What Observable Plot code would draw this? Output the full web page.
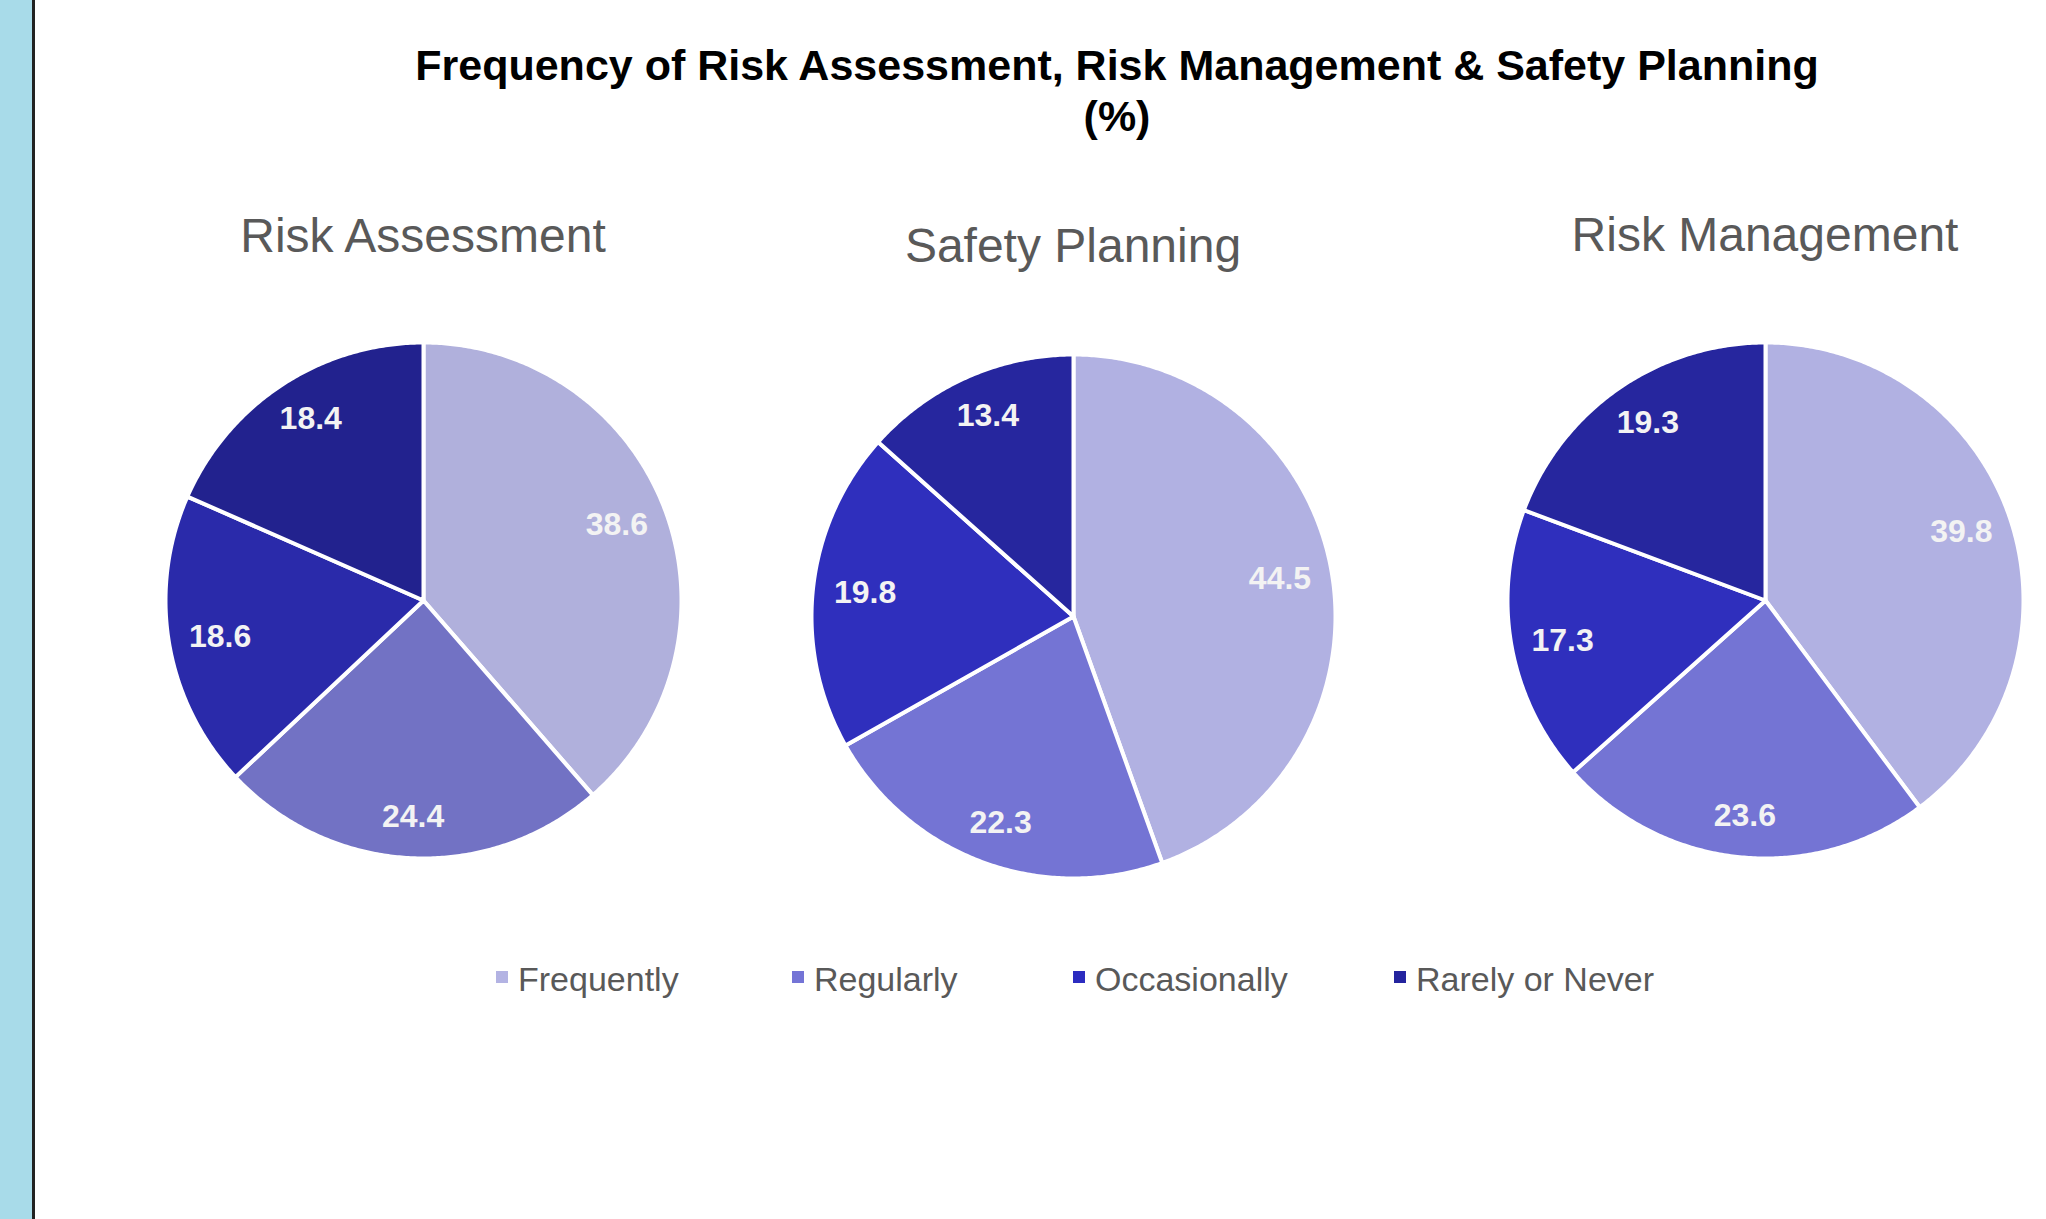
<!DOCTYPE html>
<html>
<head>
<meta charset="utf-8">
<script src="https://cdn.jsdelivr.net/npm/d3@7"></script>
<script src="https://cdn.jsdelivr.net/npm/@observablehq/plot@0.6"></script>
<style>
  html, body { margin: 0; padding: 0; background: #fff; }
  body { width: 2046px; height: 1219px; position: relative; overflow: hidden;
         font-family: "Liberation Sans", Arial, sans-serif; }
  #strip { position: absolute; left: 0; top: 0; width: 32px; height: 1219px;
           background: #a8dbe9; border-right: 3px solid #222; }
  #title { position: absolute; left: 317px; width: 1600px; top: 40px; text-align: center;
           font-weight: bold; font-size: 43px; line-height: 51px; color: #000; white-space: nowrap; }
  .sub { position: absolute; width: 700px; text-align: center; font-size: 48px;
         line-height: 48px; color: #595959; }
  .pie { position: absolute; }
  .leg { position: absolute; top: 962px; font-size: 34px; line-height: 34px; color: #595959;
         white-space: nowrap; }
  .sw { position: absolute; width: 12px; height: 12px; top: 9px; left: 0; }
  .leg span.t { position: absolute; left: 22px; top: 0; }
</style>
</head>
<body>
<div id="strip"></div>
<div id="title">Frequency of Risk Assessment, Risk Management &amp; Safety Planning<br>(%)</div>
<div id="root"></div>
<script>
// ---- data ----
const categories = ["Frequently", "Regularly", "Occasionally", "Rarely or Never"];
const chartTitles = ["Risk Assessment", "Safety Planning", "Risk Management"];
const riskAssessment = [38.6, 24.4, 18.6, 18.4];
const safetyPlanning = [44.5, 22.3, 19.8, 13.4];
const riskManagement = [39.8, 23.6, 17.3, 19.3];
const seriesValues = [riskAssessment, safetyPlanning, riskManagement];
const palettes = [
  ["#b0b0dc", "#7272c4", "#2a2aaa", "#22228e"],
  ["#b1b1e2", "#7474d4", "#2f2fbd", "#26269e"],
  ["#b1b1e2", "#7474d4", "#2f2fbd", "#26269e"]
];
const legendColors = ["#b3b3e3", "#7474d6", "#2c2cc0", "#24249e"];

// ---- layout (pixels) ----
const layout = [
  {cx: 423, cy: 600, r: 258, titleBaseline: 253},
  {cx: 1073, cy: 616, r: 262, titleBaseline: 263},
  {cx: 1765, cy: 600, r: 258, titleBaseline: 252}
];
const legendX = [496, 792, 1073, 1394];
const pad = 12;

function sliceRows(values) {
  const total = d3.sum(values);
  const rows = [];
  const labels = [];
  let acc = 0;
  values.forEach((v, i) => {
    const a0 = acc / total * 2 * Math.PI;
    acc += v;
    const a1 = acc / total * 2 * Math.PI;
    const n = Math.max(2, Math.ceil((a1 - a0) / (Math.PI / 360)));
    rows.push({cat: categories[i], x: 0, y: 0});
    for (let k = 0; k <= n; k++) {
      const a = a0 + (a1 - a0) * k / n;
      rows.push({cat: categories[i], x: Math.sin(a), y: Math.cos(a)});
    }
    rows.push({cat: categories[i], x: 0, y: 0});
    const am = (a0 + a1) / 2;
    labels.push({cat: categories[i], value: v, x: 0.80 * Math.sin(am), y: 0.84 * Math.cos(am)});
  });
  return {rows, labels};
}

const root = document.getElementById("root");
seriesValues.forEach((values, idx) => {
  const L = layout[idx];
  const {rows, labels} = sliceRows(values);
  const size = 2 * L.r + 2 * pad;
  const svg = Plot.plot({
    width: size,
    height: size,
    margin: pad,
    x: {domain: [-1, 1], axis: null},
    y: {domain: [-1, 1], axis: null},
    color: {domain: categories, range: palettes[idx]},
    marks: [
      Plot.line(rows, {x: "x", y: "y", z: "cat", fill: "cat", stroke: "white",
                       strokeWidth: 4, strokeLinejoin: "round", curve: "linear"}),
      Plot.text(labels, {x: "x", y: "y", text: d => d.value.toFixed(1),
                         fill: "#f3f3f3", fontSize: 32, fontWeight: "bold",
                         fontFamily: "Liberation Sans, Arial, sans-serif"})
    ]
  });
  const wrap = document.createElement("div");
  wrap.className = "pie";
  wrap.style.left = (L.cx - size / 2) + "px";
  wrap.style.top = (L.cy - size / 2) + "px";
  wrap.appendChild(svg);
  root.appendChild(wrap);

  const sub = document.createElement("div");
  sub.className = "sub";
  sub.textContent = chartTitles[idx];
  sub.style.left = (L.cx - 350) + "px";
  sub.style.top = (L.titleBaseline - 41) + "px";
  root.appendChild(sub);
});

categories.forEach((c, i) => {
  const item = document.createElement("div");
  item.className = "leg";
  item.style.left = legendX[i] + "px";
  const sw = document.createElement("div");
  sw.className = "sw";
  sw.style.background = legendColors[i];
  const t = document.createElement("span");
  t.className = "t";
  t.textContent = c;
  item.appendChild(sw);
  item.appendChild(t);
  root.appendChild(item);
});
</script>
</body>
</html>
